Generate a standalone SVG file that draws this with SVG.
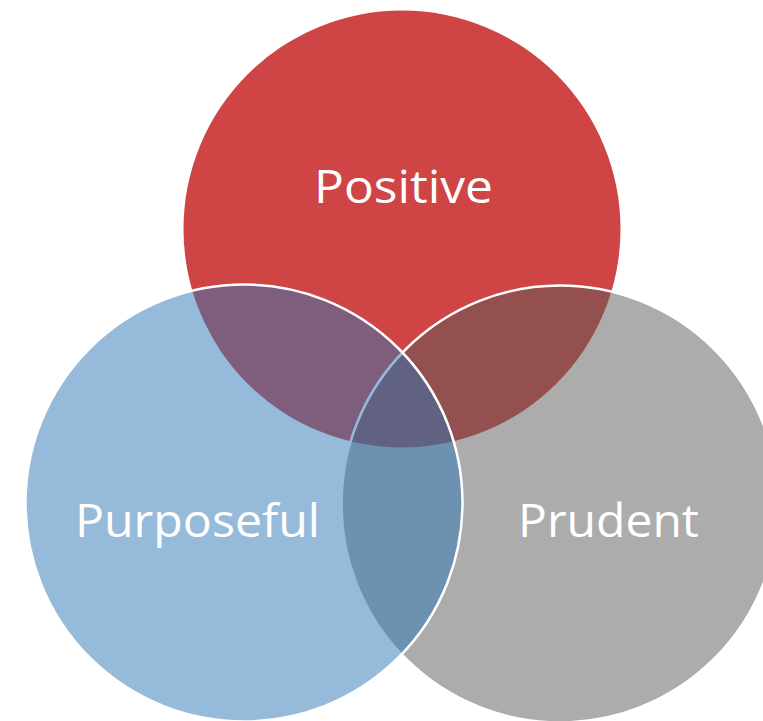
<svg xmlns="http://www.w3.org/2000/svg" width="763" height="721" viewBox="0 0 763 721">
  <style>
    .lbl { font-family: "Open Sans", "Noto Sans", "Liberation Sans", sans-serif; font-size: 46px; fill: #ffffff; text-anchor: middle; }
    .ring { stroke: #ffffff; stroke-width: 2.5; fill-opacity: 0.5; }
  </style>
  <rect width="763" height="721" fill="#ffffff"/>
  <g id="positive">
    <circle cx="402" cy="229" r="218.5" fill="#CF4444"/>
  </g>
  <g id="prudent">
    <circle class="ring" cx="560" cy="504" r="218.5" fill="#595959"/>
  </g>
  <g id="purposeful">
    <circle class="ring" cx="244" cy="503" r="218.5" fill="#2E75B6"/>
  </g>
  <g id="labels">
    <text class="lbl" x="403.5" y="203" textLength="179" lengthAdjust="spacingAndGlyphs">Positive</text>
    <text class="lbl" x="197.5" y="537" textLength="245" lengthAdjust="spacingAndGlyphs">Purposeful</text>
    <text class="lbl" x="608.5" y="537" textLength="181" lengthAdjust="spacingAndGlyphs">Prudent</text>
  </g>
  <g id="connectors"></g>
</svg>
